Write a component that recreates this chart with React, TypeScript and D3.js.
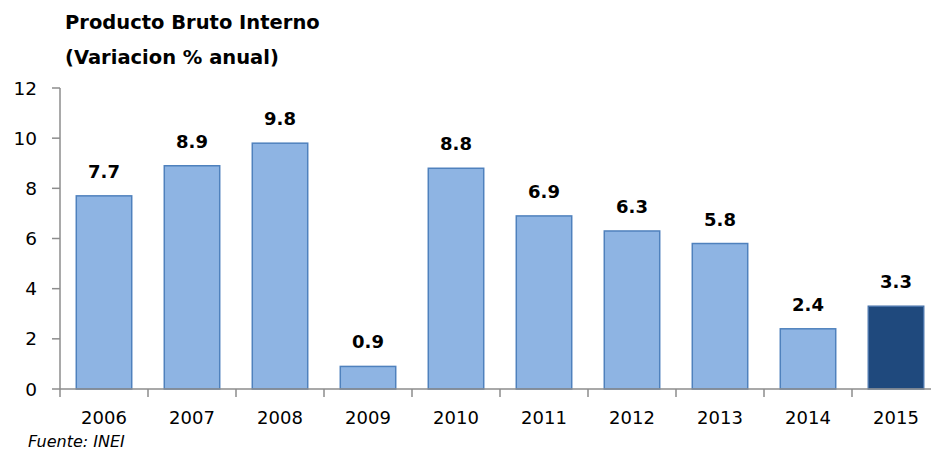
import React from "react";
import * as d3 from "d3";

const years = ["2006", "2007", "2008", "2009", "2010", "2011", "2012", "2013", "2014", "2015"];
const values = [7.7, 8.9, 9.8, 0.9, 8.8, 6.9, 6.3, 5.8, 2.4, 3.3];
const yTicks = [0, 2, 4, 6, 8, 10, 12];

const W = 931;
const H = 461;
const FONT = "'DejaVu Sans', Verdana, sans-serif";

export default function App() {
  const x = d3.scaleBand<string>().domain(years).range([60, 940]).paddingInner(0.37).paddingOuter(0.185);
  const band = d3.scaleBand<string>().domain(years).range([60, 940]);
  const y = d3.scaleLinear().domain([0, 12]).range([389, 88]);
  const axisColor = "#8c8c8c";
  return (
    <svg width={W} height={H} style={{ position: "absolute", left: 0, top: 0, background: "#fff" }}>
      <text x={65} y={29} fontFamily={FONT} fontWeight="bold" fontSize={19.5} fill="#000">Producto Bruto Interno</text>
      <text x={65} y={64} fontFamily={FONT} fontWeight="bold" fontSize={19.5} fill="#000">(Variacion % anual)</text>
      {/* y axis */}
      <line x1={60} x2={60} y1={y(12)} y2={y(0)} stroke={axisColor} strokeWidth={1.5} />
      {yTicks.map((t) => (
        <g key={t}>
          <line x1={52} x2={60} y1={y(t)} y2={y(t)} stroke={axisColor} strokeWidth={1.5} />
          <text x={37} y={y(t)} dy="0.36em" textAnchor="end" fontFamily={FONT} fontSize={18.5} fill="#000">{t}</text>
        </g>
      ))}
      {/* bars */}
      {years.map((yr, i) => {
        const last = i === years.length - 1;
        return (
          <rect key={yr} x={x(yr)} y={y(values[i])} width={x.bandwidth()} height={y(0) - y(values[i])}
            fill={last ? "#1F497D" : "#8EB4E3"} stroke={last ? "#4A74AA" : "#4F81BD"} strokeWidth={1.5} />
        );
      })}
      {/* x axis */}
      <line x1={60} x2={W} y1={y(0)} y2={y(0)} stroke={axisColor} strokeWidth={1.5} />
      {years.map((yr) => (
        <line key={"t" + yr} x1={band(yr)} x2={band(yr)} y1={y(0)} y2={y(0) + 8} stroke={axisColor} strokeWidth={1.5} />
      ))}
      {years.map((yr) => (
        <text key={"l" + yr} x={(band(yr) as number) + band.bandwidth() / 2} y={424} textAnchor="middle" fontFamily={FONT} fontSize={18} fill="#000">{yr}</text>
      ))}
      {years.map((yr, i) => (
        <text key={"v" + yr} x={(x(yr) as number) + x.bandwidth() / 2} y={y(values[i]) - 18} textAnchor="middle" fontFamily={FONT} fontWeight="bold" fontSize={18} fill="#000">{values[i].toFixed(1)}</text>
      ))}
      <text x={28} y={447} fontFamily={FONT} fontStyle="italic" fontSize={16} fill="#000">Fuente: INEI</text>
    </svg>
  );
}
